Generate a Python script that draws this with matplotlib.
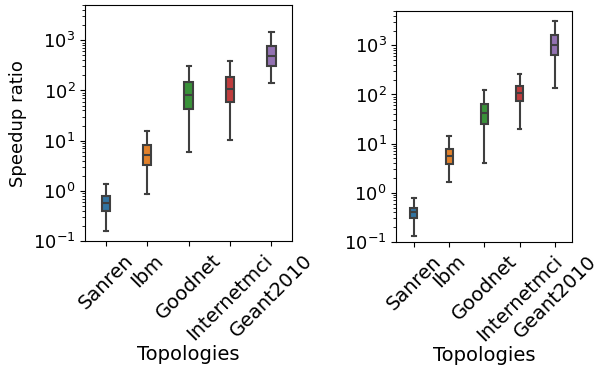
import matplotlib
matplotlib.use("Agg")
import matplotlib.pyplot as plt

topologies = ["Sanren", "Ibm", "Goodnet", "Internetmci", "Geant2010"]
colors = ["#3274a1", "#e1812c", "#3a923a", "#c03d3e", "#9372b2"]

# left panel: whisker low, q1, median, q3, whisker high
left_low = [0.16, 0.86, 5.9, 10.3, 138]
left_q1 = [0.39, 3.3, 42, 59, 300]
left_med = [0.58, 5.3, 81, 105, 487]
left_q3 = [0.79, 8.1, 149, 187, 771]
left_high = [1.4, 15.3, 300, 379, 1440]

# right panel
right_low = [0.13, 1.66, 4.0, 20, 134]
right_q1 = [0.31, 3.9, 25, 73, 630]
right_med = [0.40, 5.6, 41, 106, 1000]
right_q3 = [0.50, 7.8, 64, 149, 1660]
right_high = [0.79, 14, 124, 261, 3180]


def draw_panel(ax, low, q1, med, q3, high):
    stats = []
    for i in range(len(topologies)):
        stats.append({
            "whislo": low[i], "q1": q1[i], "med": med[i],
            "q3": q3[i], "whishi": high[i], "label": topologies[i],
        })
    line = dict(color="#3f3f3f", linewidth=1.5)
    parts = ax.bxp(
        stats, positions=range(len(topologies)), widths=0.2,
        showfliers=False, patch_artist=True,
        boxprops=dict(edgecolor="#3f3f3f", linewidth=1.5),
        whiskerprops=line, capprops=line, medianprops=line,
    )
    for box, c in zip(parts["boxes"], colors):
        box.set_facecolor(c)
    ax.set_yscale("log")
    ax.set_ylim(0.1, 5000)
    ax.set_xlim(-0.5, len(topologies) - 0.5)
    ax.set_xticks(range(len(topologies)))
    ax.set_xticklabels(topologies, rotation=45, fontsize=14)
    ax.tick_params(axis="y", labelsize=13)
    ax.set_xlabel("Topologies", fontsize=14, labelpad=1)


fig = plt.figure(figsize=(5.95, 3.67), dpi=100)
ax1 = fig.add_axes([0.143, 0.343, 0.348, 0.643])
ax2 = fig.add_axes([0.666, 0.341, 0.296, 0.629])

draw_panel(ax1, left_low, left_q1, left_med, left_q3, left_high)
draw_panel(ax2, right_low, right_q1, right_med, right_q3, right_high)
ax1.set_ylabel("Speedup ratio", fontsize=13)

fig.savefig("out.png", dpi=100)
